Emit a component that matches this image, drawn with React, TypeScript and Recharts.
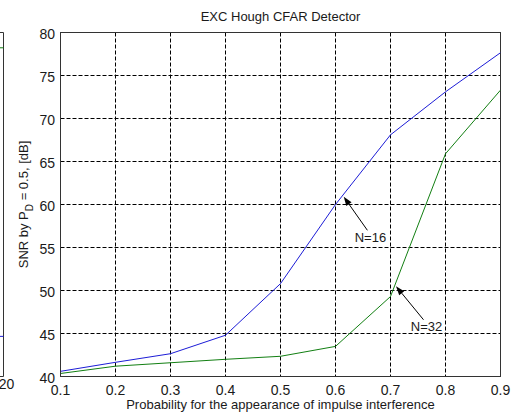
import React from 'react';
import { LineChart, Line, XAxis, YAxis, CartesianGrid, ReferenceLine } from 'recharts';

// ---- main panel data ----
const probability = [0.1, 0.2, 0.3, 0.4, 0.5, 0.6, 0.7, 0.8, 0.9];
const snrN16 = [40.6, 41.65, 42.65, 44.8, 50.8, 60.0, 68.1, 73.1, 77.65];
const snrN32 = [40.35, 41.2, 41.6, 42.0, 42.35, 43.5, 49.3, 65.9, 73.3];
const xTicks = [0.1, 0.2, 0.3, 0.4, 0.5, 0.6, 0.7, 0.8, 0.9];
const yTicks = [40, 45, 50, 55, 60, 65, 70, 75, 80];
const titleText = 'EXC Hough CFAR Detector';
const xLabelText = 'Probability for the appearance of impulse interference';

const annotN16 = { label: 'N=16', tail: { x: 0.658, y: 57.0 }, tip: { x: 0.615, y: 60.9 } };
const annotN32 = { label: 'N=32', tail: { x: 0.76, y: 46.6 }, tip: { x: 0.71, y: 50.5 } };

// ---- neighbouring (clipped) panel data ----
const leftX = [19, 20];
const leftGreen = [86.0, 86.0];
const leftBlue = [10.5, 10.5];
const leftXTicks = [20];
const leftYTicks = [0, 10, 20, 30, 40, 50, 60, 70, 80, 90];

const mainData = probability.map((p, i) => ({ p, n16: snrN16[i], n32: snrN32[i] }));
const leftData = leftX.map((x, i) => ({ x, g: leftGreen[i], b: leftBlue[i] }));

const BLUE = '#1c1cd6';
const GREEN = '#127f12';
const BOX = '#333';
const TXT = '#1a1a1a';
const FONT = '"Liberation Sans", Arial, sans-serif';

const makeArrow = (label: string) => (props: any) => {
  const { x1, y1, x2, y2 } = props;
  const ang = Math.atan2(y2 - y1, x2 - x1);
  const L = 9;
  const W = 3.2;
  const bx = x2 - L * Math.cos(ang);
  const by = y2 - L * Math.sin(ang);
  const px = -Math.sin(ang) * W;
  const py = Math.cos(ang) * W;
  return (
    <g>
      <line x1={x1} y1={y1} x2={bx} y2={by} stroke="#000" strokeWidth={1} />
      <polygon points={`${x2},${y2} ${bx + px},${by + py} ${bx - px},${by - py}`} fill="#000" />
      <text x={x1 + 3} y={y1 + 11.5} textAnchor="middle" fontSize={13} fill={TXT} fontFamily={FONT}>
        {label}
      </text>
    </g>
  );
};

const YLabel = (props: any) => {
  const vb = props.viewBox || { x: 0.5, y: 32.5, width: 60, height: 344 };
  const cx = 27.5;
  const cy = vb.y + vb.height / 2;
  return (
    <text
      x={cx}
      y={cy}
      transform={`rotate(-90, ${cx}, ${cy})`}
      textAnchor="middle"
      fontSize={13}
      fill={TXT}
      fontFamily={FONT}
    >
      <tspan>SNR by P</tspan>
      <tspan dy={5} fontSize={10}>D</tspan>
      <tspan dy={-5}> = 0.5, [dB]</tspan>
    </text>
  );
};

export default function App() {
  return (
    <div
      style={{
        position: 'absolute',
        left: 0,
        top: 0,
        width: 512,
        height: 417,
        background: '#fff',
        overflow: 'hidden',
        fontFamily: FONT,
      }}
    >
      <div style={{ position: 'absolute', left: -100, top: 0 }}>
        <LineChart width={124} height={417} data={leftData} margin={{ top: 32.5, right: 20.5, bottom: 0, left: 0 }}>
          <XAxis
            dataKey="x"
            type="number"
            domain={[0, 20]}
            ticks={leftXTicks}
            height={40.5}
            tickSize={0}
            tickMargin={3}
            tickLine={false}
            axisLine={{ stroke: BOX }}
            tick={{ fill: TXT, fontSize: 14, dx: 3 }}
          />
          <YAxis
            yAxisId="r"
            orientation="right"
            mirror
            type="number"
            domain={[0, 90]}
            ticks={leftYTicks}
            width={0}
            tick={false}
            tickSize={5}
            tickLine={{ stroke: BOX }}
            axisLine={{ stroke: BOX }}
          />
          <ReferenceLine yAxisId="r" y={90} stroke={BOX} ifOverflow="visible" />
          <ReferenceLine yAxisId="r" x={20} stroke={BOX} ifOverflow="visible" />
          <Line yAxisId="r" dataKey="g" stroke={GREEN} strokeWidth={1} dot={false} isAnimationActive={false} />
          <Line yAxisId="r" dataKey="b" stroke={BLUE} strokeWidth={1} dot={false} isAnimationActive={false} />
        </LineChart>
      </div>

      <div style={{ position: 'absolute', left: 0, top: 0 }}>
        <LineChart width={512} height={417} data={mainData} margin={{ top: 32.5, right: 11.5, bottom: 0, left: 0.5 }}>
          <CartesianGrid stroke="#000" strokeDasharray="4 2" />
          <XAxis
            dataKey="p"
            type="number"
            domain={[0.1, 0.9]}
            ticks={xTicks}
            tickFormatter={(v: number) => v.toFixed(1)}
            height={40.5}
            tickSize={0}
            tickMargin={9}
            tickLine={false}
            axisLine={{ stroke: BOX }}
            tick={{ fill: TXT, fontSize: 14 }}
            allowDataOverflow
            label={{ value: xLabelText, position: 'insideBottom', offset: 8, fill: TXT, fontSize: 13 }}
          />
          <YAxis
            type="number"
            domain={[40, 80]}
            ticks={yTicks}
            width={60}
            tickSize={0}
            tickMargin={5.5}
            tickLine={false}
            axisLine={{ stroke: BOX }}
            tick={{ fill: TXT, fontSize: 14, dy: 1.5 }}
            allowDataOverflow
            label={{ content: YLabel }}
          />
          <ReferenceLine y={80} stroke={BOX} ifOverflow="visible" />
          <ReferenceLine x={0.9} stroke={BOX} ifOverflow="visible" />
          <Line dataKey="n16" stroke={BLUE} strokeWidth={1} dot={false} isAnimationActive={false} />
          <Line dataKey="n32" stroke={GREEN} strokeWidth={1} dot={false} isAnimationActive={false} />
          <ReferenceLine segment={[annotN16.tail, annotN16.tip]} shape={makeArrow(annotN16.label)} ifOverflow="visible" />
          <ReferenceLine segment={[annotN32.tail, annotN32.tip]} shape={makeArrow(annotN32.label)} ifOverflow="visible" />
        </LineChart>
      </div>

      <div
        style={{
          position: 'absolute',
          left: 60.5,
          width: 440,
          top: 9,
          textAlign: 'center',
          fontSize: 13,
          lineHeight: '15px',
          color: TXT,
          whiteSpace: 'nowrap',
        }}
      >
        {titleText}
      </div>
    </div>
  );
}
